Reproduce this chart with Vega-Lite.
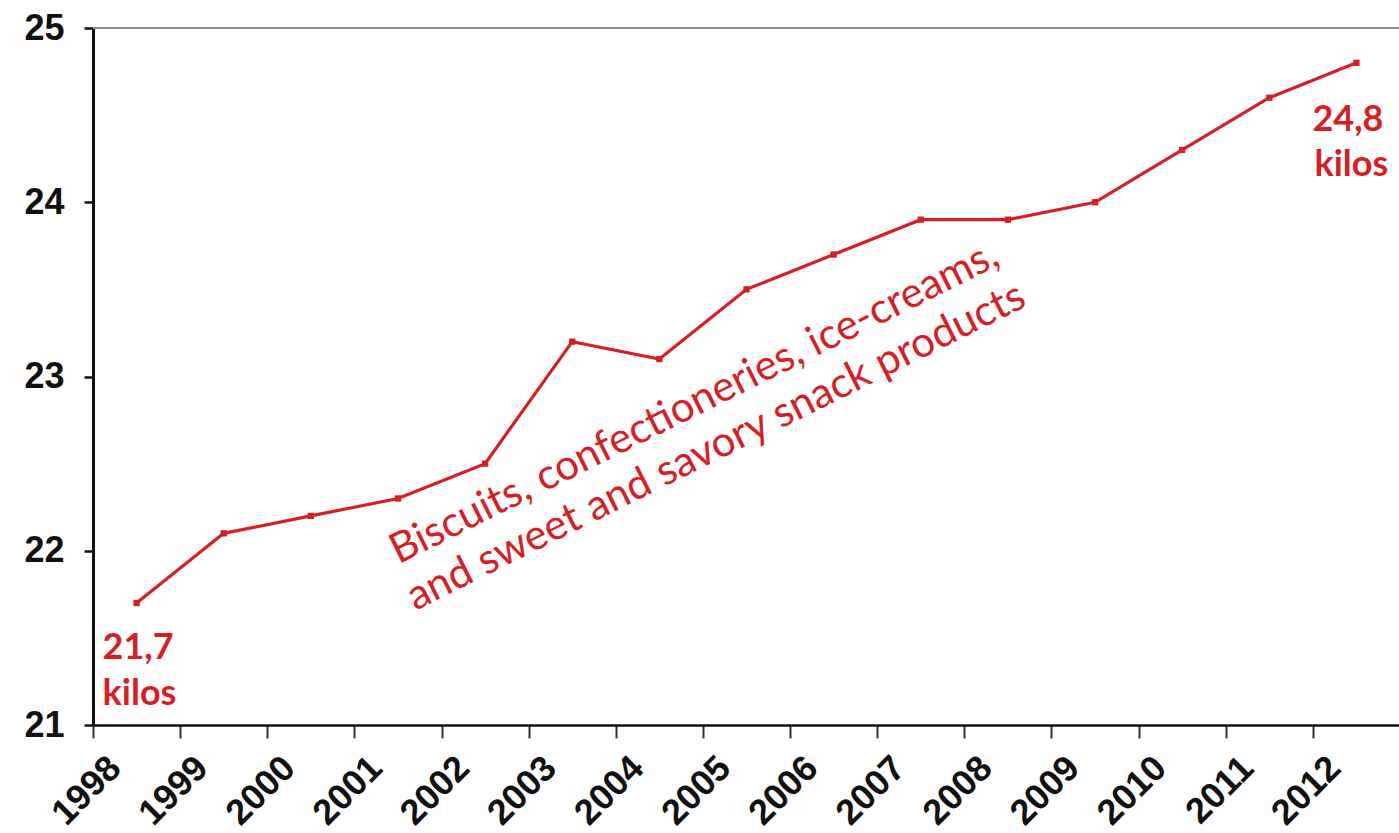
{
  "$schema": "https://vega.github.io/schema/vega-lite/v6.json",
  "autosize": "none",
  "width": 1307,
  "height": 697,
  "padding": {"left": 93, "top": 28, "right": 0, "bottom": 108},
  "background": "white",
  "config": {
    "view": {"stroke": null},
    "locale": {"number": {"decimal": ",", "thousands": ".", "grouping": [3], "currency": ["", " €"]}}
  },
  "datasets": {
    "series": [
      {"year": "1998", "value": 21.7},
      {"year": "1999", "value": 22.1},
      {"year": "2000", "value": 22.2},
      {"year": "2001", "value": 22.3},
      {"year": "2002", "value": 22.5},
      {"year": "2003", "value": 23.2},
      {"year": "2004", "value": 23.1},
      {"year": "2005", "value": 23.5},
      {"year": "2006", "value": 23.7},
      {"year": "2007", "value": 23.9},
      {"year": "2008", "value": 23.9},
      {"year": "2009", "value": 24.0},
      {"year": "2010", "value": 24.3},
      {"year": "2011", "value": 24.6},
      {"year": "2012", "value": 24.8}
    ],
    "note": [
      {"year": "2004", "value": 22.85, "text": ["Biscuits, confectioneries, ice-creams,", "and sweet and savory snack products"]}
    ]
  },
  "data": {"name": "series"},
  "encoding": {
    "x": {
      "field": "year",
      "type": "ordinal",
      "scale": {"type": "band", "paddingInner": 0, "paddingOuter": 0},
      "axis": {
        "title": null,
        "grid": false,
        "tickBand": "extent",
        "domainColor": "#111111",
        "domainWidth": 2.5,
        "tickColor": "#333333",
        "tickWidth": 2,
        "tickSize": 13,
        "labelAngle": -45,
        "labelAlign": "right",
        "labelBaseline": "middle",
        "labelOffset": -22,
        "labelPadding": 24,
        "labelFont": "Liberation Sans",
        "labelFontWeight": "bold",
        "labelFontSize": 36,
        "labelColor": "#111111"
      }
    },
    "y": {
      "field": "value",
      "type": "quantitative",
      "scale": {"domain": [21, 25], "nice": false, "zero": false},
      "axis": {
        "title": null,
        "grid": false,
        "values": [21, 22, 23, 24, 25],
        "format": "d",
        "domainColor": "#111111",
        "domainWidth": 3,
        "tickColor": "#111111",
        "tickWidth": 2.5,
        "tickSize": 9,
        "labelPadding": 20,
        "labelFont": "Liberation Sans",
        "labelFontWeight": "bold",
        "labelFontSize": 36,
        "labelColor": "#111111"
      }
    }
  },
  "layer": [
    {
      "mark": {"type": "rule", "color": "#8a8a8a", "strokeWidth": 2},
      "encoding": {"x": null, "y": {"datum": 25}}
    },
    {
      "mark": {"type": "line", "color": "#d81e25", "strokeWidth": 3.2}
    },
    {
      "mark": {"type": "point", "shape": "square", "filled": true, "opacity": 1, "size": 40, "color": "#d81e25"}
    },
    {
      "transform": [{"filter": "datum.year == '1998'"}],
      "mark": {"type": "text", "align": "left", "baseline": "alphabetic", "dx": -34, "dy": 56, "font": "Lato", "fontWeight": "bold", "fontSize": 36, "color": "#d81e25"},
      "encoding": {"text": {"field": "value", "type": "quantitative", "format": ".1f"}}
    },
    {
      "transform": [{"filter": "datum.year == '1998'"}],
      "mark": {"type": "text", "align": "left", "baseline": "alphabetic", "dx": -34, "dy": 102, "font": "Lato", "fontWeight": "bold", "fontSize": 36, "color": "#d81e25", "text": "kilos"}
    },
    {
      "transform": [{"filter": "datum.year == '2012'"}],
      "mark": {"type": "text", "align": "left", "baseline": "alphabetic", "dx": -44, "dy": 68, "font": "Lato", "fontWeight": "bold", "fontSize": 36, "color": "#d81e25"},
      "encoding": {"text": {"field": "value", "type": "quantitative", "format": ".1f"}}
    },
    {
      "transform": [{"filter": "datum.year == '2012'"}],
      "mark": {"type": "text", "align": "left", "baseline": "alphabetic", "dx": -42, "dy": 113, "font": "Lato", "fontWeight": "bold", "fontSize": 36, "color": "#d81e25", "text": "kilos"}
    },
    {
      "data": {"name": "note"},
      "mark": {"type": "text", "align": "center", "baseline": "middle", "angle": -26.5, "font": "Lato", "fontSize": 42, "lineHeight": 49, "color": "#d81e25"},
      "encoding": {
        "x": {"field": "year", "type": "ordinal", "bandPosition": 0.9},
        "y": {"field": "value", "type": "quantitative"},
        "text": {"field": "text"}
      }
    }
  ]
}
